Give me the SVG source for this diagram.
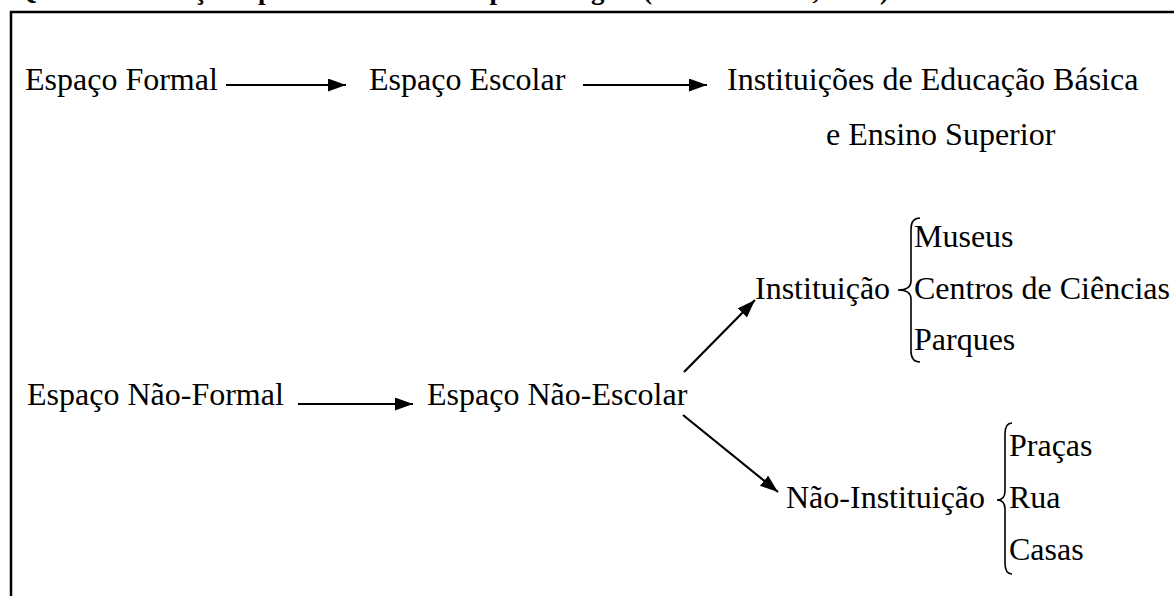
<svg xmlns="http://www.w3.org/2000/svg" width="1174" height="596" viewBox="0 0 1174 596">
  <style>
    .t { font-family: "Liberation Serif", "Times New Roman", serif; font-size: 32px; fill: #000; }
    .title { font-family: "Liberation Serif", "Times New Roman", serif; font-size: 27px; font-weight: bold; fill: #000; }
    .frame { stroke: #000; stroke-width: 2.5; fill: none; }
    .conn { stroke: #000; stroke-width: 2.2; fill: none; marker-end: url(#arrow); }
    .brace { stroke: #000; stroke-width: 1.6; fill: none; }
  </style>
  <defs>
    <marker id="arrow" viewBox="0 0 18 13" refX="18" refY="6.5" markerWidth="18" markerHeight="13" markerUnits="userSpaceOnUse" orient="auto">
      <path d="M0,0 L18,6.5 L0,13 Z" fill="#000"/>
    </marker>
  </defs>
  <rect width="1174" height="596" fill="#fff"/>
  <text class="title" y="-1"><tspan x="16">Quadro 1: Relação</tspan><tspan x="258">para ambientes de</tspan><tspan x="476">aprendizagem</tspan><tspan x="643">(JACOBUCCI, 2008)</tspan></text>
  <g id="frame">
    <path class="frame" d="M11,596 L11,12 L1174,12"/>
  </g>
  <g id="connectors">
    <line class="conn" x1="226" y1="85" x2="346" y2="85"/>
    <line class="conn" x1="583" y1="85" x2="707" y2="85"/>
    <line class="conn" x1="298" y1="404" x2="413" y2="404"/>
    <line class="conn" x1="684" y1="372" x2="755" y2="300"/>
    <line class="conn" x1="683" y1="415" x2="778" y2="492"/>
  </g>
  <g id="espaco-formal"><text class="t" x="25" y="90">Espaço Formal</text></g>
  <g id="espaco-escolar"><text class="t" x="369" y="90">Espaço Escolar</text></g>
  <g id="instituicoes-educacao">
    <text class="t" x="727" y="90">Instituições de Educação Básica</text>
    <text class="t" x="826" y="145">e Ensino Superior</text>
  </g>
  <g id="espaco-nao-formal"><text class="t" x="27" y="405">Espaço Não-Formal</text></g>
  <g id="espaco-nao-escolar"><text class="t" x="427" y="405">Espaço Não-Escolar</text></g>
  <g id="instituicao">
    <text class="t" x="755" y="299">Instituição</text>
    <path class="brace" d="M920,218 Q911,218 911,229 L911,281 Q911,290 898,290 Q911,290 911,299 L911,351 Q911,362 920,362"/>
    <text class="t" x="914" y="247">Museus</text>
    <text class="t" x="914" y="299">Centros de Ciências</text>
    <text class="t" x="914" y="350">Parques</text>
  </g>
  <g id="nao-instituicao">
    <text class="t" x="786" y="508">Não-Instituição</text>
    <path class="brace" d="M1012,423 Q1005,423 1005,434 L1005,491 Q1005,500 997,500 Q1005,500 1005,509 L1005,563 Q1005,574 1012,574"/>
    <text class="t" x="1009" y="456">Praças</text>
    <text class="t" x="1009" y="508">Rua</text>
    <text class="t" x="1009" y="560">Casas</text>
  </g>
</svg>
